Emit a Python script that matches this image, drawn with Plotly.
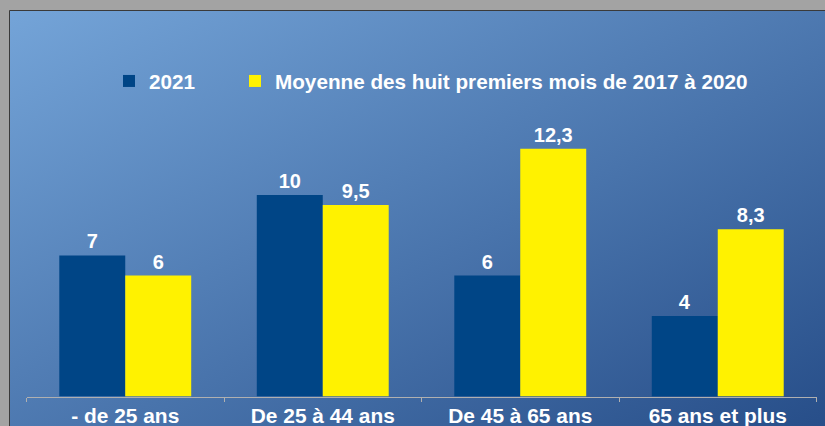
import base64
import plotly.graph_objects as go

categories = ["- de 25 ans", "De 25 à 44 ans", "De 45 à 65 ans", "65 ans et plus"]
series_2021 = [7, 10, 6, 4]
series_avg = [6, 9.5, 12.3, 8.3]
name_2021 = "2021"
name_avg = "Moyenne des huit premiers mois de 2017 à 2020"

W, H = 825, 426
FONT = "Liberation Sans, Arial, sans-serif"

def fr(v):
    return f"{v:g}".replace(".", ",")

svg = f'''<svg xmlns="http://www.w3.org/2000/svg" width="{W}" height="{H}" viewBox="0 0 {W} {H}" preserveAspectRatio="none">
<defs><linearGradient id="g" x1="0" y1="0" x2="1" y2="1">
<stop offset="0" stop-color="#74a4d8"/><stop offset="1" stop-color="#274e89"/></linearGradient></defs>
<rect x="0" y="0" width="{W}" height="{H}" fill="#a3a3a3"/>
<rect x="10" y="11" width="{W-10}" height="{H-11}" fill="url(#g)"/>
<line x1="9.5" y1="10.5" x2="{W}" y2="10.5" stroke="#3a3a3a" stroke-width="1"/>
<line x1="9.5" y1="10.5" x2="9.5" y2="{H}" stroke="#3a3a3a" stroke-width="1"/>
</svg>'''
src = "data:image/svg+xml;base64," + base64.b64encode(svg.encode()).decode()

dfont = dict(family=FONT, size=20, color="white", weight="bold")
lfont = dict(family=FONT, size=20.7, color="white", weight="bold")
tfont = dict(family=FONT, size=20.9, color="white", weight="bold")

fig = go.Figure()
fig.add_trace(go.Bar(
    x=categories, y=series_2021, name=name_2021, legend="legend",
    marker=dict(color="#004586", line=dict(width=0)),
    text=[fr(v) for v in series_2021], textposition="outside",
    textfont=dfont, cliponaxis=False,
))
fig.add_trace(go.Bar(
    x=categories, y=series_avg, name=name_avg, legend="legend2",
    marker=dict(color="#fff200", line=dict(width=0)),
    text=[fr(v) for v in series_avg], textposition="outside",
    textfont=dfont, cliponaxis=False,
))

x0, x1 = 26.5, 816.5
ybase, ytop = 396.5, 30.0
px_per_unit = 20.15

fig.update_layout(
    width=W, height=H,
    margin=dict(l=0, r=0, t=0, b=0),
    paper_bgcolor="#a3a3a3",
    plot_bgcolor="rgba(0,0,0,0)",
    barmode="group", bargap=0.332, bargroupgap=0,
    font=dfont,
    showlegend=True,
    legend=dict(orientation="h", x=109 / W, y=1 - 61 / H, xanchor="left", yanchor="top",
                bgcolor="rgba(0,0,0,0)", font=lfont),
    legend2=dict(orientation="h", x=235 / W, y=1 - 61 / H, xanchor="left", yanchor="top",
                 bgcolor="rgba(0,0,0,0)", font=lfont),
    images=[dict(source=src, xref="paper", yref="paper", x=0, y=1, sizex=1, sizey=1,
                 xanchor="left", yanchor="top", sizing="stretch", layer="below")],
    xaxis=dict(
        domain=[x0 / W, x1 / W], showline=True, linecolor="#b0b0b0", linewidth=1,
        ticks="outside", ticklen=4, tickcolor="#b0b0b0", tickson="boundaries",
        showgrid=False, zeroline=False, tickfont=tfont,
    ),
    yaxis=dict(
        domain=[(H - ybase) / H, (H - ytop) / H],
        range=[0, (ybase - ytop) / px_per_unit],
        visible=False, showgrid=False, zeroline=False,
    ),
)

fig.write_html("out.html", config={"displayModeBar": False},
               post_script="document.body.style.margin='0';document.body.style.overflow='hidden';")
